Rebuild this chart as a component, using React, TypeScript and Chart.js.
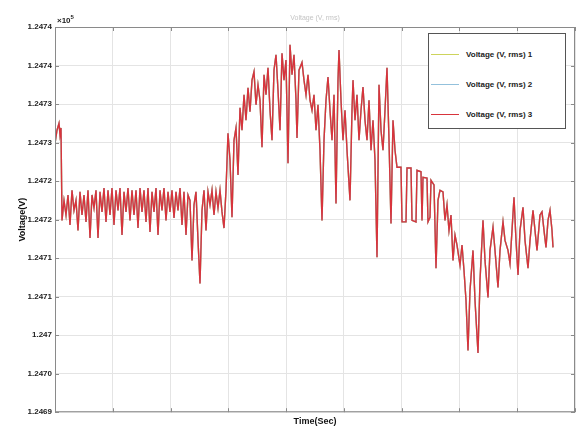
import React, { useEffect, useRef } from "react";
import { Chart, registerables } from "chart.js";

Chart.register(...registerables);

// time samples (arbitrary units along the x axis)
const time = [
  0, 2, 4, 5, 6, 7, 9, 11, 13, 15,
  17, 19, 21, 23, 25, 27, 29, 31, 33, 35,
  37, 39, 41, 43, 45, 47, 49, 51, 53, 55,
  57, 59, 61, 63, 65, 67, 69, 71, 73, 75,
  77, 79, 81, 83, 85, 87, 89, 91, 93, 95,
  97, 99, 101, 103, 105, 107, 109, 111, 113, 115,
  117, 119, 121, 123, 125, 127, 129, 131, 133, 135,
  137, 139, 141, 143, 145, 147, 149, 151, 153, 155,
  157, 159, 161, 163, 165, 167, 169, 171, 173, 175,
  177, 179, 181, 183, 185, 187, 189, 191, 193, 195,
  197, 199, 201, 203, 205, 207, 209, 211, 213, 215,
  217, 219, 221, 223, 225, 227, 229, 231, 233, 235,
  237, 239, 241, 242, 244, 247, 249, 251, 253, 255,
  257, 259, 261, 263, 265, 267, 269, 271, 273, 275,
  277, 279, 281, 283, 284, 286, 288, 290, 292, 295,
  297, 298, 300, 302, 304, 306, 308, 310, 312, 314,
  316, 318, 320, 322, 324, 326, 328, 330, 332, 334,
  336, 338, 340, 342, 346, 347, 351, 352, 356, 357,
  361, 362, 366, 367, 368, 372, 373, 375, 376, 379,
  381, 383, 385, 388, 390, 392, 394, 396, 398, 400,
  402, 405, 407, 409, 411, 413, 415, 418, 420, 423,
  425, 428, 430, 433, 435, 438, 440, 443, 445, 448,
  450, 453, 455, 457, 459, 461, 463, 465, 468, 470,
  473, 475, 478, 480, 482, 485, 487, 489, 491, 493,
  495, 497, 498,
];

// Voltage (V, rms) values
const voltage = [
  124724.9, 124726.6, 124727.5, 124726.0, 124726.9, 124714.9, 124717.5, 124715.6, 124718.2, 124714.3,
  124718.8, 124716.2, 124717.5, 124713.6, 124718.6, 124715.6, 124718.2, 124714.7, 124718.8, 124712.6,
  124718.2, 124716.5, 124718.8, 124712.6, 124718.6, 124716.0, 124719.1, 124714.7, 124718.8, 124715.6,
  124719.1, 124714.3, 124718.8, 124716.2, 124719.1, 124713.0, 124718.6, 124716.0, 124719.1, 124714.9,
  124718.8, 124715.6, 124718.8, 124713.9, 124719.1, 124716.0, 124718.8, 124714.7, 124719.1, 124713.4,
  124718.6, 124716.0, 124719.1, 124713.0, 124718.8, 124716.2, 124719.1, 124714.9, 124718.6, 124716.0,
  124718.8, 124715.2, 124718.6, 124716.2, 124719.1, 124714.3, 124718.6, 124713.0, 124718.2, 124717.5,
  124709.7, 124716.9, 124718.6, 124712.3, 124706.7, 124716.2, 124718.8, 124713.6, 124718.6, 124716.9,
  124718.8, 124715.6, 124718.6, 124716.5, 124718.8, 124716.0, 124713.9, 124718.8, 124726.2, 124722.7,
  124715.3, 124725.3, 124726.9, 124720.8, 124729.5, 124726.6, 124731.2, 124727.9, 124732.1, 124729.0,
  124733.1, 124734.2, 124729.9, 124732.5, 124730.5, 124724.4, 124733.8, 124731.2, 124734.7, 124729.2,
  124725.3, 124734.4, 124736.4, 124731.8, 124726.6, 124736.6, 124733.1, 124735.7, 124722.3, 124737.7,
  124733.8, 124736.4, 124730.5, 124725.6, 124734.4, 124735.4, 124733.1, 124731.2, 124733.8, 124730.5,
  124729.2, 124731.2, 124726.6, 124729.9, 124724.0, 124714.9, 124725.3, 124730.5, 124733.5, 124729.2,
  124725.3, 124731.2, 124717.1, 124733.1, 124737.0, 124730.5, 124725.3, 124729.2, 124724.0, 124717.5,
  124729.2, 124733.1, 124727.9, 124731.2, 124725.3, 124729.2, 124732.2, 124727.9, 124725.3, 124730.5,
  124724.0, 124727.9, 124722.7, 124710.1, 124732.5, 124726.6, 124724.0, 124729.2, 124734.7, 124725.3,
  124714.5, 124727.9, 124724.0, 124721.8, 124721.8, 124714.7, 124714.7, 124721.7, 124721.7, 124714.9,
  124714.7, 124721.4, 124721.2, 124714.9, 124720.5, 124720.4, 124714.7, 124715.3, 124720.1, 124719.5,
  124708.7, 124717.5, 124718.8, 124718.6, 124714.9, 124716.9, 124713.6, 124715.6, 124709.7, 124713.0,
  124711.7, 124709.1, 124711.7, 124708.4, 124704.5, 124698.0, 124705.8, 124711.0, 124704.5, 124697.7,
  124707.1, 124714.9, 124709.7, 124704.9, 124711.0, 124714.0, 124711.0, 124706.2, 124711.0, 124714.7,
  124712.3, 124711.0, 124709.3, 124713.6, 124717.9, 124712.3, 124707.8, 124713.6, 124716.6, 124712.3,
  124708.7, 124712.3, 124716.2, 124713.6, 124711.0, 124715.6, 124716.0, 124713.6, 124711.4, 124714.9,
  124716.2, 124713.6, 124711.4,
];

const yMin = 124690;
const yMax = 124740;
const yStep = 5;
const yTickLabels = [
  "1.2469", "1.2470", "1.247", "1.2471", "1.2471", "1.2472",
  "1.2472", "1.2473", "1.2473", "1.2474", "1.2474",
];
const xMin = 0;
const xMax = 520;
const xDivisions = 9;

const seriesNames = ["Voltage (V, rms) 1", "Voltage (V, rms) 2", "Voltage (V, rms) 3"];
const seriesColors = ["#cdd45c", "#93c1dc", "#d8343c"];

const FONT = "'Liberation Sans', Arial, sans-serif";

export default function App() {
  const canvasRef = useRef<HTMLCanvasElement | null>(null);

  useEffect(() => {
    document.body.style.margin = "0";
    const canvas = canvasRef.current;
    if (!canvas) return;
    const points = time.map((t, i) => ({ x: t, y: voltage[i] }));

    const xTickValues = Array.from({ length: xDivisions + 1 }, (_, i) => xMin + (i * (xMax - xMin)) / xDivisions);

    const boxPlugin = {
      id: "boxPlugin",
      afterDraw(chart: any) {
        const { ctx, chartArea, scales } = chart;
        const { left, right, top, bottom } = chartArea;
        ctx.save();
        ctx.strokeStyle = "#8a8a8a";
        ctx.lineWidth = 1;
        ctx.strokeRect(left + 0.5, top + 0.5, right - left - 1, bottom - top - 1);
        ctx.beginPath();
        xTickValues.forEach((v) => {
          const px = Math.round(scales.x.getPixelForValue(v)) + 0.5;
          ctx.moveTo(px, bottom);
          ctx.lineTo(px, bottom - 4);
          ctx.moveTo(px, top);
          ctx.lineTo(px, top + 4);
        });
        for (let v = yMin; v <= yMax; v += yStep) {
          const py = Math.round(scales.y.getPixelForValue(v)) + 0.5;
          ctx.moveTo(left, py);
          ctx.lineTo(left + 4, py);
          ctx.moveTo(right, py);
          ctx.lineTo(right - 4, py);
        }
        ctx.stroke();
        ctx.restore();
      },
    };

    const chart = new Chart(canvas, {
      type: "line",
      data: {
        datasets: seriesNames.map((name, i) => ({
          label: name,
          data: points,
          borderColor: seriesColors[i],
          backgroundColor: seriesColors[i],
          borderWidth: 1.4,
          pointRadius: 0,
          tension: 0,
          fill: false,
          order: i === 2 ? 0 : 2 - i,
        })),
      },
      options: {
        responsive: false,
        animation: false,
        events: [],
        layout: { padding: { left: 0, right: 5, top: 27, bottom: 6 } },
        plugins: {
          legend: { display: false },
          tooltip: { enabled: false },
          title: { display: false },
        },
        scales: {
          x: {
            type: "linear",
            min: xMin,
            max: xMax,
            border: { display: false },
            grid: { color: "#e4e4e4", lineWidth: 1, drawTicks: false },
            ticks: { display: false },
            afterBuildTicks: (scale: any) => {
              scale.ticks = xTickValues.map((v) => ({ value: v }));
            },
            title: {
              display: true,
              text: "Time(Sec)",
              color: "#111",
              font: { family: FONT, size: 9, weight: "bold" },
              padding: { top: 4, bottom: 0 },
            },
          },
          y: {
            type: "linear",
            min: yMin,
            max: yMax,
            border: { display: false },
            grid: { color: "#e4e4e4", lineWidth: 1, drawTicks: false },
            ticks: {
              stepSize: yStep,
              padding: 3,
              color: "#222",
              font: { family: FONT, size: 8, weight: "bold" },
              callback: (v: any) => yTickLabels[Math.round((Number(v) - yMin) / yStep)] ?? "",
            },
            afterFit: (scale: any) => {
              scale.width = 55;
            },
            title: {
              display: true,
              text: "Voltage(V)",
              color: "#111",
              font: { family: FONT, size: 9, weight: "bold" },
              padding: { top: 17, bottom: 0 },
            },
          },
        },
      },
      plugins: [boxPlugin],
    });
    return () => chart.destroy();
  }, []);

  return (
    <div style={{ position: "relative", width: 580, height: 433, background: "#fff", overflow: "hidden" }}>
      <canvas ref={canvasRef} width={580} height={433} style={{ display: "block" }} />
      <div
        style={{
          position: "absolute", left: 57, top: 14, fontFamily: FONT, fontSize: 8,
          fontWeight: "bold", color: "#222",
        }}
      >
        ×10<sup style={{ fontSize: 6 }}>5</sup>
      </div>
      <div
        style={{
          position: "absolute", left: 0, width: 630, top: 14, textAlign: "center",
          fontFamily: FONT, fontSize: 7, color: "#c4c4c4",
        }}
      >
        Voltage (V, rms)
      </div>
      <div
        style={{
          position: "absolute", left: 428, top: 33, width: 138, height: 96,
          border: "1px solid #555", background: "#fff", boxSizing: "border-box",
        }}
      >
        {seriesNames.map((name, i) => (
          <div
            key={name}
            style={{ position: "absolute", left: 2, top: 14 + i * 30, height: 12, display: "flex", alignItems: "center" }}
          >
            <div style={{ width: 28, height: 0, borderTop: `1.5px solid ${seriesColors[i]}` }} />
            <span
              style={{ marginLeft: 7, fontFamily: FONT, fontSize: 8, fontWeight: "bold", color: "#222", whiteSpace: "nowrap" }}
            >
              {name}
            </span>
          </div>
        ))}
      </div>
    </div>
  );
}
